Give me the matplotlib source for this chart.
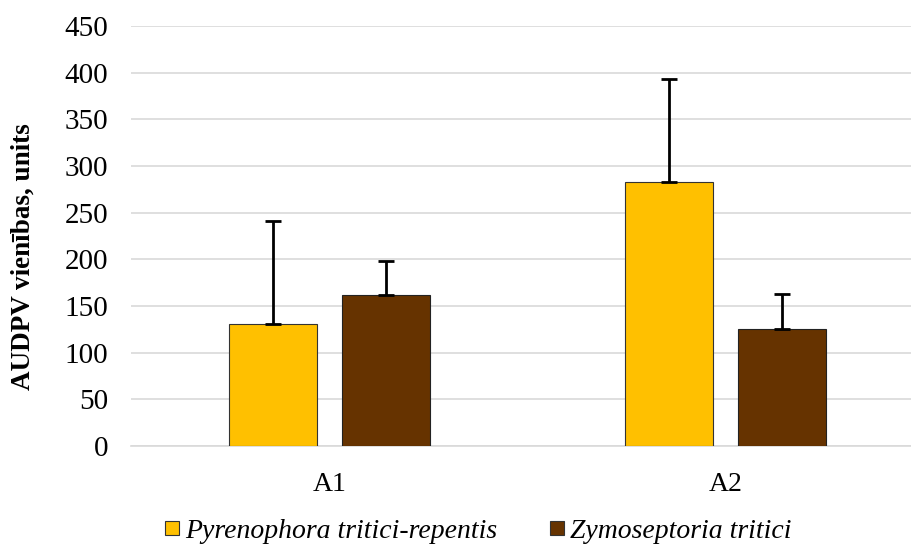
import numpy as np
import matplotlib.pyplot as plt
from matplotlib.lines import Line2D

# data
groups = ['A1', 'A2']
series = ['Pyrenophora tritici-repentis', 'Zymoseptoria tritici']
ptr_vals = [131, 282.5]
zt_vals = [162, 125]
ptr_err = [110, 110.5]
zt_err = [36.5, 37.5]
colors = ['#FFC000', '#663300']

plt.rcParams['font.family'] = ['Liberation Serif', 'DejaVu Serif']

fig = plt.figure(figsize=(9.12, 5.46), dpi=100)
# plot area is cropped on the right in the original
ax = fig.add_axes([131.5/912, 100/546, 792/912, 420/546])

x = np.arange(len(groups))
w = 0.222
off = 0.143
ax.bar(x - off, ptr_vals, w, color=colors[0], edgecolor='#333333', linewidth=0.8, zorder=3)
ax.bar(x + off, zt_vals, w, color=colors[1], edgecolor='#222222', linewidth=0.8, zorder=3)
ax.errorbar(x - off, ptr_vals, yerr=[np.zeros(2), ptr_err], fmt='none',
            ecolor='black', elinewidth=2, capsize=6, capthick=2, zorder=4)
ax.errorbar(x + off, zt_vals, yerr=[np.zeros(2), zt_err], fmt='none',
            ecolor='black', elinewidth=2, capsize=6, capthick=2, zorder=4)

ax.set_xlim(-0.5, 1.5)
ax.set_ylim(0, 450)
ax.set_yticks(np.arange(0, 451, 50))
ax.set_xticks(x)
ax.set_xticklabels(groups)
ax.tick_params(axis='y', length=0, labelsize=21, pad=17)
ax.tick_params(axis='x', length=0, labelsize=20, pad=19)
ax.grid(axis='y', color='#d9d9d9', linewidth=1.2, zorder=0)
for s in ['top', 'right', 'left']:
    ax.spines[s].set_visible(False)
ax.spines['bottom'].set_color('#d9d9d9')
ax.spines['bottom'].set_linewidth(1.2)

ax.set_ylabel('AUDPV vienības, units', fontsize=19.5, fontweight='bold')
ax.yaxis.set_label_coords(-0.1206, 0.451)

handles = [Line2D([], [], marker='s', linestyle='none', markersize=10,
                  markerfacecolor=c, markeredgecolor='#333333', markeredgewidth=0.8)
           for c in colors]
fig.legend(handles, series, loc='center', bbox_to_anchor=(0.5225, 0.027), ncol=2,
           frameon=False, prop={'style': 'italic', 'size': 20},
           handletextpad=0.12, columnspacing=1.8, handlelength=0.7)

plt.savefig('out.png', dpi=100)
